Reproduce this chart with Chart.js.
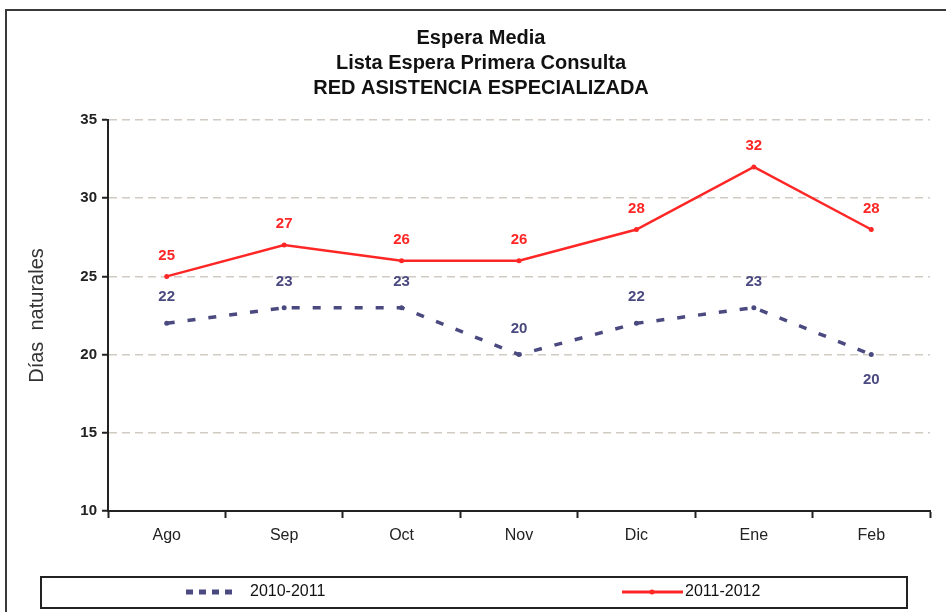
<!DOCTYPE html>
<html>
<head>
<meta charset="utf-8">
<script src="https://cdn.jsdelivr.net/npm/chart.js@4"></script>
<style>
  html, body { margin: 0; padding: 0; background: #fff; }
  #wrap { position: relative; width: 946px; height: 612px; overflow: hidden; }
  #marco { position: absolute; left: 5px; top: 9px; width: 960px; height: 620px;
           border-top: 2px solid #3a3a3a; border-left: 2px solid #3a3a3a; }
  canvas { position: absolute; left: 0; top: 0; }
</style>
</head>
<body>
<div id="wrap">
  <div id="marco"></div>
  <canvas id="grafico" width="946" height="612"></canvas>
</div>
<script>
const meses = ['Ago', 'Sep', 'Oct', 'Nov', 'Dic', 'Ene', 'Feb'];
const serie1011 = [22, 23, 23, 20, 22, 23, 20];
const serie1112 = [25, 27, 26, 26, 28, 32, 28];
const nombresSeries = ['2010-2011', '2011-2012'];
const titulo = ['Espera Media', 'Lista Espera Primera Consulta', 'RED ASISTENCIA ESPECIALIZADA'];
const tituloEjeY = 'Días  naturales';

const FUENTE = '"Liberation Sans", Arial, sans-serif';
const AZUL = '#4b4a80';
const ROJO = '#ff2626';

// etiquetas de valor encima (o debajo) de cada punto
const etiquetas = {
  id: 'etiquetas',
  afterDatasetsDraw(chart) {
    const ctx = chart.ctx;
    ctx.save();
    ctx.font = 'bold 15px ' + FUENTE;
    ctx.textAlign = 'center';
    ctx.textBaseline = 'middle';
    chart.data.datasets.forEach((ds, i) => {
      const meta = chart.getDatasetMeta(i);
      ctx.fillStyle = ds.borderColor;
      meta.data.forEach((pt, j) => {
        const off = ds.desplazamiento(j);
        ctx.fillText(String(ds.data[j]), pt.x, pt.y + off);
      });
    });
    ctx.restore();
  }
};

// leyenda en recuadro bajo el eje
const leyenda = {
  id: 'leyenda',
  afterDraw(chart) {
    const ctx = chart.ctx;
    ctx.save();
    ctx.strokeStyle = '#222';
    ctx.lineWidth = 2;
    ctx.strokeRect(41, 577, 866, 31);

    const y = 592;
    ctx.strokeStyle = AZUL;
    ctx.lineWidth = 5;
    ctx.setLineDash([7, 6]);
    ctx.beginPath(); ctx.moveTo(186, y); ctx.lineTo(238, y); ctx.stroke();
    ctx.setLineDash([]);

    ctx.strokeStyle = ROJO;
    ctx.lineWidth = 3;
    ctx.beginPath(); ctx.moveTo(622, y); ctx.lineTo(683, y); ctx.stroke();
    ctx.fillStyle = ROJO;
    ctx.beginPath(); ctx.arc(652, y, 2.5, 0, Math.PI * 2); ctx.fill();

    ctx.fillStyle = '#111';
    ctx.font = '16px ' + FUENTE;
    ctx.textBaseline = 'middle';
    ctx.textAlign = 'left';
    ctx.fillText(nombresSeries[0], 250, y);
    ctx.fillText(nombresSeries[1], 685, y);
    ctx.restore();
  }
};

new Chart(document.getElementById('grafico'), {
  type: 'line',
  data: {
    labels: meses,
    datasets: [
      {
        label: nombresSeries[0],
        data: serie1011,
        borderColor: AZUL,
        backgroundColor: AZUL,
        borderWidth: 3.5,
        borderDash: [8, 13],
        pointRadius: 2.5,
        pointBorderWidth: 0,
        tension: 0,
        desplazamiento: j => (j === serie1011.length - 1 ? 25 : -26)
      },
      {
        label: nombresSeries[1],
        data: serie1112,
        borderColor: ROJO,
        backgroundColor: ROJO,
        borderWidth: 2.5,
        pointRadius: 2.5,
        pointBorderWidth: 0,
        tension: 0,
        desplazamiento: () => -21
      }
    ]
  },
  options: {
    responsive: false,
    devicePixelRatio: 1,
    animation: false,
    layout: { padding: { top: 0, left: 32, right: 16, bottom: 0 } },
    plugins: {
      legend: { display: false },
      tooltip: { enabled: false },
      title: {
        display: true,
        text: titulo,
        color: '#111',
        font: { family: FUENTE, size: 20, weight: 'bold', lineHeight: 1.25 },
        padding: { top: 26, bottom: 19 }
      }
    },
    scales: {
      x: {
        offset: true,
        grid: {
          offset: true,
          drawOnChartArea: false,
          drawTicks: true,
          tickLength: 7,
          tickColor: '#222',
          tickWidth: 2
        },
        border: { display: true, color: '#222', width: 2 },
        ticks: {
          color: '#222',
          padding: 8,
          font: { family: FUENTE, size: 16 }
        },
        afterFit: s => { s.height = 101; }
      },
      y: {
        min: 10,
        max: 35,
        ticks: {
          stepSize: 5,
          color: '#222',
          padding: 5,
          font: { family: FUENTE, size: 15, weight: 'bold' }
        },
        grid: {
          color: '#d2cbc4',
          lineWidth: 1.5,
          drawTicks: true,
          tickLength: 6,
          tickColor: '#222',
          tickWidth: 2,
          tickBorderDash: []
        },
        border: { display: true, color: '#222', width: 2, dash: [8, 5] },
        title: {
          display: true,
          text: tituloEjeY,
          color: '#333',
          font: { family: FUENTE, size: 20, lineHeight: 1.2 },
          padding: { top: -7, bottom: 0 }
        },
        afterFit: s => { s.width = 76; }
      }
    }
  },
  plugins: [etiquetas, leyenda]
});
</script>
</body>
</html>
